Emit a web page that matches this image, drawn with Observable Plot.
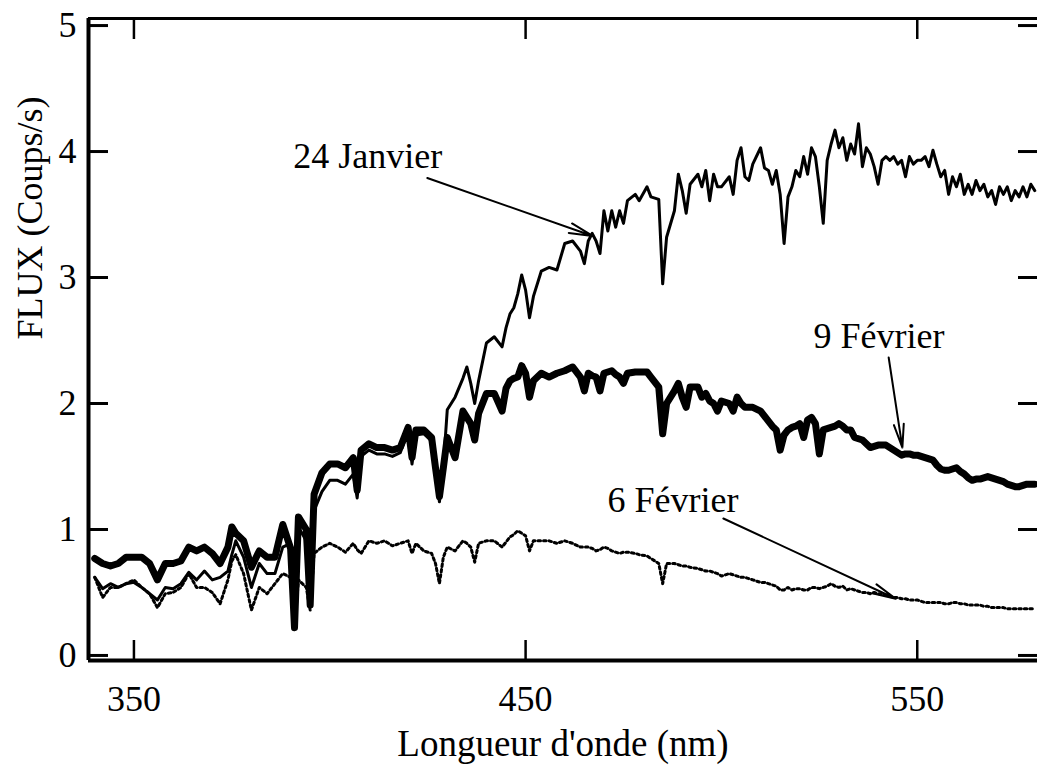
<!DOCTYPE html>
<html><head><meta charset="utf-8">
<script src="https://cdn.jsdelivr.net/npm/d3@7"></script>
<script src="https://cdn.jsdelivr.net/npm/@observablehq/plot@0.6"></script>
<style>html,body{margin:0;padding:0;background:#fff;overflow:hidden} svg{display:block}</style>
</head><body><div id="chart"></div>
<script>
// Wavelength grid (nm)
const wavelength = [
340,342,344,346,348,350,352,354,356,358,360,362,364,366,368,370,372,374,375,376,378,380,382,384,386,388,390,391,392,394,395,396,398,
400,402,404,406,407,408,410,412,414,416,418,420,421,422,424,426,427,428,429,430,432,434,435,436,437,438,
440,442,444,445,446,447,448,449,450,451,452,454,456,458,460,462,464,465,466,467,468,469,470,471,472,473,474,475,476,478,479,481,482,484,485,486,488,489,490,491,492,494,495,496,497,498,499,
500,502,503,504,505,506,507,508,510,511,512,513,514,515,516,517,518,519,520,521,522,523,524,525,526,527,528,529,530,531,532,533,534,535,536,537,538,539,
540,541,542,543,544,545,546,547,548,549,550,551,552,553,554,555,556,557,558,559,560,561,562,563,564,565,566,567,568,569,570,571,572,573,574,575,576,577,578,579,580];

// 24 Janvier (thin line)
const flux24Janvier = [
0.62,0.53,0.57,0.54,0.57,0.58,0.54,0.49,0.44,0.54,0.53,0.57,0.66,0.60,0.67,0.60,0.62,0.67,0.80,0.91,0.78,0.54,0.73,0.65,0.65,0.86,0.89,0.22,1.02,0.91,0.44,1.15,1.30,
1.39,1.39,1.36,1.44,1.25,1.58,1.63,1.60,1.60,1.58,1.61,1.78,1.52,1.75,1.76,1.70,1.45,1.22,1.50,1.95,2.05,2.20,2.29,2.16,2.00,2.18,
2.48,2.53,2.45,2.60,2.71,2.76,2.87,3.02,2.90,2.68,2.85,3.05,3.08,3.06,3.27,3.29,3.21,3.11,3.29,3.35,3.29,3.19,3.53,3.37,3.53,3.40,3.53,3.43,3.61,3.66,3.61,3.72,3.64,3.62,2.95,3.32,3.53,3.82,3.69,3.51,3.74,3.82,3.72,3.85,3.61,3.82,3.72,
3.72,3.80,3.66,3.93,4.03,3.80,3.77,3.90,4.03,3.87,3.85,3.74,3.85,3.66,3.27,3.64,3.72,3.85,3.80,3.96,3.82,4.03,3.96,3.72,3.43,3.93,4.06,4.17,4.03,4.11,3.93,4.06,3.98,4.22,3.88,4.03,3.98,3.88,
3.74,3.93,3.96,3.93,3.96,3.90,3.93,3.80,3.96,3.90,3.93,3.93,3.96,3.88,4.01,3.90,3.80,3.85,3.66,3.80,3.72,3.82,3.66,3.74,3.66,3.77,3.69,3.74,3.64,3.69,3.58,3.72,3.66,3.72,3.61,3.69,3.64,3.72,3.64,3.74,3.69];

// 9 Février (thick line)
const flux9Fevrier = [
0.77,0.73,0.71,0.73,0.78,0.78,0.78,0.73,0.60,0.73,0.73,0.75,0.86,0.83,0.86,0.81,0.73,0.86,1.02,0.97,0.91,0.70,0.83,0.78,0.78,1.04,0.85,0.22,1.10,1.00,0.40,1.28,1.45,
1.52,1.52,1.49,1.57,1.31,1.63,1.68,1.65,1.65,1.63,1.65,1.81,1.57,1.79,1.79,1.73,1.49,1.26,1.49,1.73,1.57,1.94,1.89,1.84,1.71,1.92,
2.08,2.08,1.94,2.12,2.18,2.20,2.21,2.30,2.24,2.05,2.18,2.24,2.21,2.24,2.26,2.29,2.21,2.10,2.24,2.22,2.21,2.10,2.24,2.25,2.26,2.23,2.21,2.16,2.24,2.25,2.25,2.25,2.21,2.13,1.76,2.00,2.10,2.16,2.05,1.97,2.13,2.13,2.05,2.08,2.02,2.00,1.94,
2.02,2.00,1.94,2.05,2.00,1.97,1.97,1.97,1.94,1.90,1.86,1.82,1.79,1.63,1.75,1.79,1.81,1.82,1.84,1.73,1.87,1.89,1.84,1.60,1.79,1.80,1.81,1.82,1.84,1.82,1.79,1.79,1.73,1.72,1.71,1.68,1.65,1.66,
1.67,1.67,1.67,1.65,1.63,1.61,1.59,1.60,1.60,1.59,1.59,1.58,1.57,1.56,1.55,1.51,1.48,1.47,1.47,1.48,1.49,1.46,1.44,1.41,1.39,1.40,1.40,1.41,1.42,1.41,1.40,1.39,1.38,1.36,1.35,1.34,1.34,1.35,1.36,1.36,1.36];

// 6 Février (dotted line)
const flux6Fevrier = [
0.62,0.46,0.54,0.54,0.57,0.60,0.54,0.49,0.38,0.49,0.50,0.54,0.65,0.54,0.54,0.50,0.41,0.60,0.75,0.80,0.65,0.36,0.54,0.49,0.57,0.65,0.62,0.22,0.60,0.54,0.36,0.81,0.86,
0.89,0.86,0.82,0.89,0.84,0.81,0.91,0.89,0.91,0.87,0.89,0.91,0.81,0.89,0.83,0.81,0.73,0.57,0.78,0.86,0.83,0.91,0.89,0.86,0.74,0.89,
0.91,0.91,0.86,0.90,0.94,0.96,0.99,0.97,0.95,0.83,0.91,0.91,0.91,0.89,0.91,0.89,0.86,0.86,0.86,0.85,0.83,0.84,0.86,0.85,0.83,0.82,0.81,0.82,0.82,0.81,0.80,0.79,0.77,0.73,0.57,0.73,0.73,0.72,0.71,0.71,0.70,0.69,0.68,0.67,0.67,0.66,0.65,
0.63,0.65,0.64,0.63,0.62,0.62,0.61,0.60,0.58,0.58,0.57,0.56,0.55,0.52,0.52,0.54,0.52,0.53,0.53,0.52,0.52,0.54,0.54,0.53,0.54,0.55,0.57,0.55,0.54,0.55,0.52,0.53,0.52,0.51,0.50,0.50,0.49,0.50,
0.49,0.49,0.48,0.47,0.46,0.46,0.45,0.45,0.44,0.44,0.44,0.43,0.42,0.42,0.42,0.42,0.42,0.41,0.41,0.42,0.42,0.41,0.41,0.40,0.40,0.40,0.40,0.39,0.39,0.38,0.38,0.38,0.38,0.37,0.37,0.37,0.37,0.37,0.37,0.37,0.37];

// Axes
const xTicks = [350, 450, 550];
const yTicks = [0, 1, 2, 3, 4, 5];
const xDomain = [338.4, 580.7];
const yDomain = [-0.04, 5.056];
const xLabel = "Longueur d'onde (nm)";
const yLabel = "FLUX (Coups/s)";

// Annotations
const annotText = ["24 Janvier", "9 Février", "6 Février"];
const annotX = [390.7, 523.5, 470.9];
const annotY = [3.96, 2.53, 1.23];
const arrowX1 = [424.9, 542.7, 500.5];
const arrowY1 = [3.79, 2.365, 1.087];
const arrowX2 = [467.1, 546.2, 544.5];
const arrowY2 = [3.33, 1.65, 0.45];

const rows = wavelength.map((w, i) => ({w, jan: flux24Janvier[i], f9: flux9Fevrier[i], f6: flux6Fevrier[i]}));
const labels = annotText.map((t, i) => ({t, x: annotX[i], y: annotY[i]}));
const arrows = arrowX1.map((x1, i) => ({x1, y1: arrowY1[i], x2: arrowX2[i], y2: arrowY2[i]}));

const font = "Liberation Serif, Times New Roman, serif";
const chart = Plot.plot({
  width: 1037,
  height: 771,
  marginLeft: 88,
  marginRight: 0,
  marginTop: 18,
  marginBottom: 111,
  style: {fontFamily: font, fontSize: "36px", background: "white", color: "black"},
  x: {domain: xDomain, axis: null},
  y: {domain: yDomain, axis: null},
  marks: [
    Plot.line(rows, {x: "w", y: "f6", stroke: "black", strokeWidth: 3, strokeDasharray: "2.5,3", clip: true}),
    Plot.line(rows, {x: "w", y: "f9", stroke: "black", strokeWidth: 7, strokeLinejoin: "round", clip: true}),
    Plot.line(rows, {x: "w", y: "jan", stroke: "black", strokeWidth: 3, strokeLinejoin: "round", clip: true}),
    Plot.ruleX([xDomain[0]], {stroke: "black", strokeWidth: 4}),
    Plot.ruleY([yDomain[0]], {stroke: "black", strokeWidth: 4}),
    Plot.ruleY([yDomain[1]], {stroke: "black", strokeWidth: 3}),
    Plot.axisY(yTicks, {anchor: "left", tickSize: -20, tickPadding: 32, strokeWidth: 3, label: null, fontSize: 36, tickFormat: d => String(d)}),
    Plot.axisY(yTicks, {anchor: "right", tickSize: -20, tickFormat: () => "", strokeWidth: 3, label: null}),
    Plot.axisX(xTicks, {anchor: "bottom", tickSize: -20, tickPadding: 45, strokeWidth: 2.5, label: null, fontSize: 36, tickFormat: d => String(d)}),
    Plot.axisX(xTicks, {anchor: "top", tickSize: -20, tickFormat: () => "", strokeWidth: 2.5, label: null}),
    Plot.text([yLabel], {frameAnchor: "left", dx: -58, rotate: -90, fontSize: 36}),
    Plot.text([xLabel], {frameAnchor: "bottom", dy: 95, fontSize: 37}),
    Plot.text(labels, {x: "x", y: "y", text: "t", textAnchor: "start", fontSize: 36}),
    Plot.arrow(arrows, {x1: "x1", y1: "y1", x2: "x2", y2: "y2", stroke: "black", strokeWidth: 2, headLength: 18, headAngle: 24})
  ]
});
document.getElementById("chart").appendChild(chart);
</script>
</body></html>
